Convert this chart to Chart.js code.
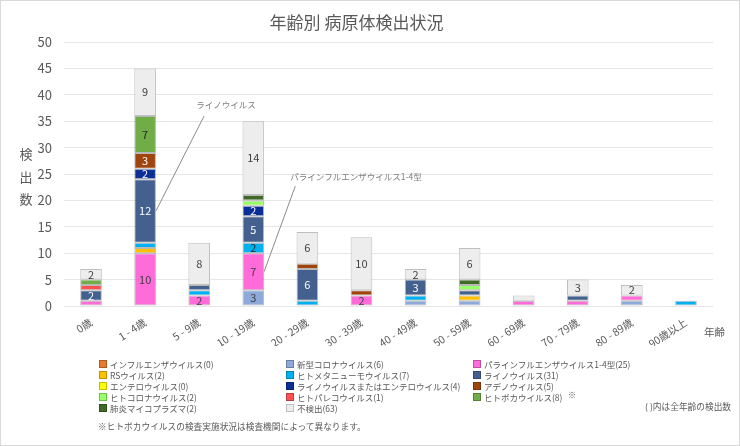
<!DOCTYPE html>
<html lang="ja">
<head>
<meta charset="utf-8">
<script src="https://cdn.jsdelivr.net/npm/chart.js@4.4.1/dist/chart.umd.min.js"></script>
<style>
  html, body { margin: 0; padding: 0; background: #fff; }
  #wrap { position: relative; width: 740px; height: 446px; font-family: "Noto Sans CJK JP", sans-serif; color: #595959; }
  #wrap canvas { position: absolute; left: 0; top: 0; }
  #frame { position: absolute; left: 0; top: 0; width: 738px; height: 444px; border: 1px solid #d9d9d9; pointer-events: none; }
  .txt { position: absolute; white-space: nowrap; }
  #ytitle { left: 18px; top: 143px; font-size: 13px; line-height: 22.5px; width: 16px; text-align: center; }
  #xtitle { left: 704px; top: 324px; font-size: 10.5px; }
  #legend { position: absolute; left: 0; top: 358px; font-size: 8.5px; }
  .item { position: absolute; display: flex; align-items: center; height: 11px; white-space: nowrap; }
  .box { width: 6px; height: 6px; margin-right: 3px; border: 1px solid rgba(0,0,0,0.25); }
  #note { left: 98px; top: 420px; font-size: 8.7px; }
  #paren { left: 645px; top: 400px; font-size: 8.7px; }
  #mark { left: 568px; top: 389px; font-size: 8px; }
</style>
</head>
<body>
<div id="wrap">
  <canvas id="chart" width="740" height="446"></canvas>
  <div id="ytitle" class="txt">検<br>出<br>数</div>
  <div id="xtitle" class="txt">年齢</div>
  <div id="legend"></div>
  <div id="mark" class="txt">※</div>
  <div id="paren" class="txt">( )内は全年齢の検出数</div>
  <div id="note" class="txt">※ヒトボカウイルスの検査実施状況は検査機関によって異なります。</div>
  <div id="frame"></div>
</div>
<script>
// age groups
const ageLabels = ['0歳', '1 - 4歳', '5 - 9歳', '10 - 19歳', '20 - 29歳', '30 - 39歳',
  '40 - 49歳', '50 - 59歳', '60 - 69歳', '70 - 79歳', '80 - 89歳', '90歳以上'];

// detections per age group, stacked bottom to top in this order
const influenza   = [0, 0, 0, 0, 0, 0, 0, 0, 0, 0, 0, 0];
const covid       = [0, 0, 0, 3, 0, 0, 1, 1, 0, 0, 1, 0];
const para        = [1, 10, 2, 7, 0, 2, 0, 0, 1, 1, 1, 0];
const rsv         = [0, 1, 0, 0, 0, 0, 0, 1, 0, 0, 0, 0];
const hmpv        = [0, 1, 1, 2, 1, 0, 1, 0, 0, 0, 0, 1];
const rhino       = [2, 12, 1, 5, 6, 0, 3, 1, 0, 1, 0, 0];
const entero      = [0, 0, 0, 0, 0, 0, 0, 0, 0, 0, 0, 0];
const rhinoEntero = [0, 2, 0, 2, 0, 0, 0, 0, 0, 0, 0, 0];
const adeno       = [0, 3, 0, 0, 1, 1, 0, 0, 0, 0, 0, 0];
const hcov        = [0, 0, 0, 1, 0, 0, 0, 1, 0, 0, 0, 0];
const parecho     = [1, 0, 0, 0, 0, 0, 0, 0, 0, 0, 0, 0];
const boca        = [1, 7, 0, 0, 0, 0, 0, 0, 0, 0, 0, 0];
const myco        = [0, 0, 0, 1, 0, 0, 0, 1, 0, 0, 0, 0];
const notDetected = [2, 9, 8, 14, 6, 10, 2, 6, 1, 3, 2, 0];

const series = [
  { name: 'インフルエンザウイルス', data: influenza, color: '#e8792f', text: '#fff' },
  { name: '新型コロナウイルス', data: covid, color: '#8eaadb', text: '#404040' },
  { name: 'パラインフルエンザウイルス1-4型', data: para, color: '#ff6bd8', text: '#404040' },
  { name: 'RSウイルス', data: rsv, color: '#ffc000', text: '#404040' },
  { name: 'ヒトメタニューモウイルス', data: hmpv, color: '#00b0f0', text: '#262626' },
  { name: 'ライノウイルス', data: rhino, color: '#44608f', text: '#fff' },
  { name: 'エンテロウイルス', data: entero, color: '#ffff00', text: '#404040' },
  { name: 'ライノウイルスまたはエンテロウイルス', data: rhinoEntero, color: '#0a2f96', text: '#fff' },
  { name: 'アデノウイルス', data: adeno, color: '#a0450e', text: '#fff' },
  { name: 'ヒトコロナウイルス', data: hcov, color: '#99ff66', text: '#404040' },
  { name: 'ヒトパレコウイルス', data: parecho, color: '#ff5050', text: '#404040' },
  { name: 'ヒトボカウイルス', data: boca, color: '#70ad47', text: '#262626' },
  { name: '肺炎マイコプラズマ', data: myco, color: '#3f6a27', text: '#fff' },
  { name: '不検出', data: notDetected, color: '#ededed', text: '#404040', border: '#bfbfbf' }
];

// callouts pointing at a segment (value = height in data units)
const callouts = [
  { text: 'ライノウイルス', series: 'ライノウイルス', index: 1, textDx: 51, textValue: 38.1, lineDx: 59, lineValue: 36 },
  { text: 'パラインフルエンザウイルス1-4型', series: 'パラインフルエンザウイルス1-4型', index: 3, textDx: 37, textValue: 24.4, lineDx: 42, lineValue: 22.7 }
];

const sum = arr => arr.reduce((a, b) => a + b, 0);

// legend, 3 columns filled row by row
const legendEl = document.getElementById('legend');
const colX = [99, 286, 473];
series.forEach((s, i) => {
  const item = document.createElement('div');
  item.className = 'item';
  item.style.left = colX[i % 3] + 'px';
  item.style.top = (Math.floor(i / 3) * 11) + 'px';
  item.innerHTML = `<span class="box" style="background:${s.color};${s.border ? 'border-color:' + s.border : ''}"></span>${s.name}(${sum(s.data)})`;
  legendEl.appendChild(item);
});

const segmentLabels = {
  id: 'segmentLabels',
  afterDatasetsDraw(chart) {
    const ctx = chart.ctx;
    ctx.save();
    ctx.font = '11px "Noto Sans CJK JP", sans-serif';
    ctx.textAlign = 'center';
    ctx.textBaseline = 'middle';
    chart.data.datasets.forEach((ds, di) => {
      const meta = chart.getDatasetMeta(di);
      meta.data.forEach((bar, i) => {
        const v = ds.data[i];
        if (v >= 2) {
          ctx.fillStyle = series[di].text;
          ctx.fillText(String(v), bar.x, (bar.y + bar.base) / 2);
        }
      });
    });
    ctx.restore();
  }
};

const calloutPlugin = {
  id: 'callouts',
  afterDatasetsDraw(chart) {
    const ctx = chart.ctx;
    const xs = chart.scales.x, ys = chart.scales.y;
    ctx.save();
    callouts.forEach(c => {
      const di = series.findIndex(s => s.name === c.series);
      const bar = chart.getDatasetMeta(di).data[c.index];
      const cx = xs.getPixelForValue(c.index);
      const endX = bar.x + bar.width / 2;
      const endY = (bar.y + bar.base) / 2;
      ctx.strokeStyle = '#8c8c8c';
      ctx.lineWidth = 1;
      ctx.beginPath();
      ctx.moveTo(cx + c.lineDx, ys.getPixelForValue(c.lineValue));
      ctx.lineTo(endX, endY);
      ctx.stroke();
      ctx.fillStyle = '#7f7f7f';
      ctx.font = '8.5px "Noto Sans CJK JP", sans-serif';
      ctx.textAlign = 'left';
      ctx.textBaseline = 'middle';
      ctx.fillText(c.text, cx + c.textDx, ys.getPixelForValue(c.textValue));
    });
    ctx.restore();
  }
};

const chart = new Chart(document.getElementById('chart').getContext('2d'), {
  type: 'bar',
  data: {
    labels: ageLabels,
    datasets: series.map(s => ({
      label: s.name,
      data: s.data,
      backgroundColor: s.color,
      borderColor: s.border || 'rgba(0,0,0,0.28)',
      borderWidth: c => (c.raw ? 1 : 0),
      borderSkipped: false,
      barPercentage: 0.4,
      categoryPercentage: 1
    }))
  },
  options: {
    responsive: false,
    animation: false,
    layout: { padding: { left: 0, right: 27, top: 0, bottom: 100 } },
    plugins: {
      legend: { display: false },
      tooltip: { enabled: false },
      title: {
        display: true,
        text: '年齢別 病原体検出状況',
        color: '#595959',
        font: { family: '"Noto Sans CJK JP", sans-serif', size: 17, weight: 'normal' },
        padding: { top: 12, bottom: 9.6 }
      }
    },
    scales: {
      x: {
        stacked: true,
        grid: { display: false },
        border: { display: false },
        ticks: {
          color: '#595959',
          font: { family: '"Noto Sans CJK JP", sans-serif', size: 10.5 },
          minRotation: 33,
          maxRotation: 33,
          autoSkip: false,
          padding: 2
        },
        afterFit: s => { s.height = 40; }
      },
      y: {
        stacked: true,
        min: 0,
        max: 50,
        ticks: {
          stepSize: 5,
          color: '#595959',
          font: { family: '"Noto Sans CJK JP", sans-serif', size: 13 },
          padding: 12
        },
        grid: { color: '#e6e6e6', drawTicks: false },
        border: { display: false },
        afterFit: s => { s.width = 64; }
      }
    }
  },
  plugins: [segmentLabels, calloutPlugin]
});
</script>
</body>
</html>
